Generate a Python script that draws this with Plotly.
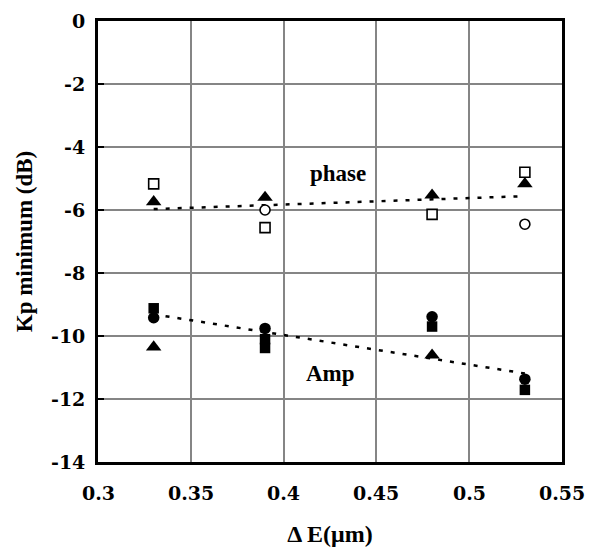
import plotly.graph_objects as go

# Electrode spacing ΔE (µm) and minimum Kp (dB)
phase_sq_x = [0.33, 0.39, 0.48, 0.53]
phase_sq_y = [-5.17, -6.56, -6.14, -4.80]
phase_ci_x = [0.39, 0.53]
phase_ci_y = [-6.00, -6.45]
phase_tr_x = [0.33, 0.39, 0.48, 0.53]
phase_tr_y = [-5.74, -5.60, -5.53, -5.17]

amp_sq_x = [0.33, 0.39, 0.39, 0.48, 0.53]
amp_sq_y = [-9.12, -10.10, -10.38, -9.70, -11.71]
amp_ci_x = [0.33, 0.39, 0.48, 0.53]
amp_ci_y = [-9.42, -9.76, -9.39, -11.37]
amp_tr_x = [0.33, 0.48]
amp_tr_y = [-10.35, -10.61]

# Linear trend lines
fit_x = [0.33, 0.53]
phase_fit_y = [-5.97, -5.56]
amp_fit_y = [-9.31, -11.19]

x_ticks = [0.3, 0.35, 0.4, 0.45, 0.5, 0.55]
x_tick_text = ["0.3", "0.35", "0.4", "0.45", "0.5", "0.55"]
y_ticks = [0, -2, -4, -6, -8, -10, -12, -14]
y_tick_text = ["0", "-2", "-4", "-6", "-8", "-10", "-12", "-14"]

bold = dict(family="Liberation Serif", size=23, color="black", weight="bold")
num_font = dict(family="DejaVu Serif", size=19, color="black", weight="bold")

fig = go.Figure()

trend_line = dict(color="black", width=2.5, dash="4px,8px")
fig.add_trace(go.Scatter(x=fit_x, y=phase_fit_y, mode="lines", line=trend_line))
fig.add_trace(go.Scatter(x=fit_x, y=amp_fit_y, mode="lines", line=trend_line))

def marks(x, y, symbol, size, filled):
    return go.Scatter(
        x=x, y=y, mode="markers",
        marker=dict(
            symbol=symbol, size=size,
            color="black" if filled else "white",
            line=dict(color="black", width=0 if filled else 1.6),
        ),
    )

fig.add_trace(marks(phase_sq_x, phase_sq_y, "square", 10, False))
fig.add_trace(marks(phase_ci_x, phase_ci_y, "circle", 10, False))
fig.add_trace(marks(phase_tr_x, phase_tr_y, "triangle-up", 13.5, True))
fig.add_trace(marks(amp_tr_x, amp_tr_y, "triangle-up", 13.5, True))
fig.add_trace(marks(amp_sq_x, amp_sq_y, "square", 10.5, True))
fig.add_trace(marks(amp_ci_x, amp_ci_y, "circle", 11.5, True))

# Series labels
fig.add_annotation(x=0.4295, y=-4.84, text="phase", showarrow=False, font=bold)
fig.add_annotation(x=0.425, y=-11.18, text="Amp", showarrow=False, font=bold)

# Bold serif tick labels placed at the axis tick values
for v, t in zip(x_ticks, x_tick_text):
    fig.add_annotation(x=v, xref="x", y=0, yref="paper", text=t, showarrow=False,
                       xanchor="center", yanchor="top", yshift=-18, font=num_font)
for v, t in zip(y_ticks, y_tick_text):
    fig.add_annotation(x=0, xref="paper", y=v, yref="y", text=t, showarrow=False,
                       xanchor="right", yanchor="middle", xshift=-11, font=num_font)

fig.update_layout(
    template="none",
    width=592, height=550,
    margin=dict(l=98, r=30, t=21, b=88),
    paper_bgcolor="white", plot_bgcolor="white",
    showlegend=False,
    font=bold,
)
fig.update_xaxes(
    range=[0.3, 0.55], tickmode="array", tickvals=x_ticks, showticklabels=False,
    showgrid=True, gridcolor="#858585", gridwidth=2,
    showline=True, linecolor="black", linewidth=2.5, mirror=True,
    ticks="", zeroline=False,
    title=dict(text="Δ E(μm)", font=dict(bold, size=24), standoff=62),
)
fig.update_yaxes(
    range=[-14, 0], tickmode="array", tickvals=y_ticks, showticklabels=False,
    showgrid=True, gridcolor="#858585", gridwidth=2,
    showline=True, linecolor="black", linewidth=2.5, mirror=True,
    ticks="inside", ticklen=6, tickwidth=2, tickcolor="black", zeroline=False,
    title=dict(text="Kp minimum (dB)", font=bold, standoff=57),
)

fig.write_html("out.html")
